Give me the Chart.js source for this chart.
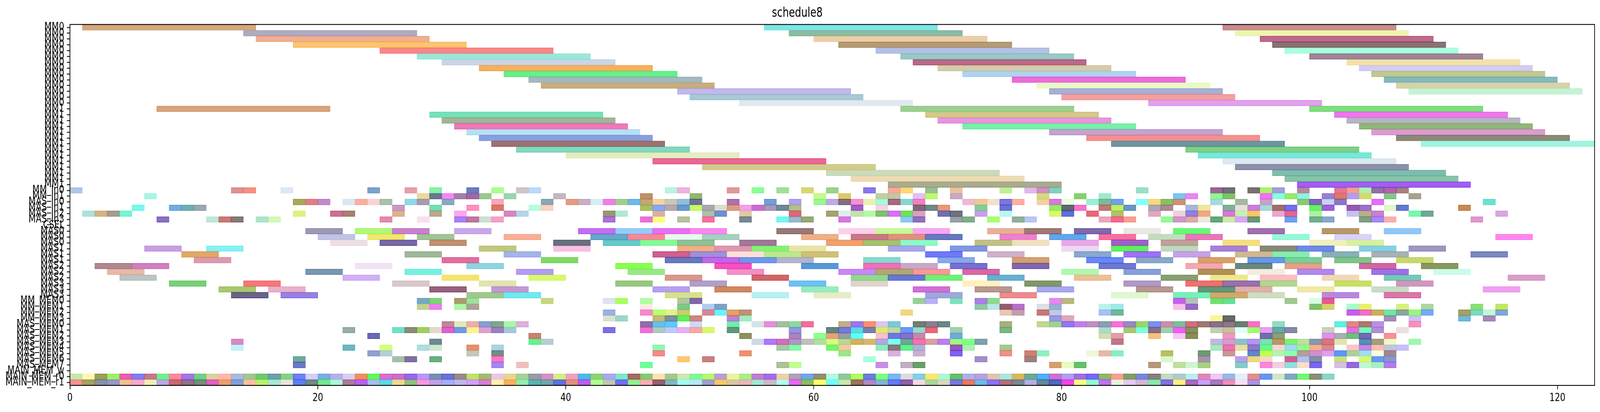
<!DOCTYPE html>
<html><head><meta charset="utf-8">
<script src="https://cdn.jsdelivr.net/npm/chart.js@4.4.0/dist/chart.umd.min.js"></script>
<style>html,body{margin:0;padding:0;background:#fff;overflow:hidden}canvas{display:block;background:#fff}</style>
</head><body>
<canvas id="c" width="5330" height="1054"></canvas>
<script>
// ---------- categories (y tick labels) ----------
const rowNames = [
 'MM0','MM0','MM0','MM0','MM0','MM0','MM0','MM0','MM0','MM0','MM0','MM0','MM0','MM0',
 'MM1','MM1','MM1','MM1','MM1','MM1','MM1','MM1','MM1','MM1','MM1','MM1','MM1','MM1',
 'MM_In0','MM_In1','MAS_In0','MAS_In1','MAS_In2','MAS_In3','CSEL',
 'MAS0','MAS0','MAS0','MAS1','MAS1','MAS1','MAS2','MAS2','MAS2','MAS3','MAS3','MAS3',
 'MM_MEM0','MM_MEM1','MM_MEM2','MM_MEM3',
 'MAS_MEM0','MAS_MEM1','MAS_MEM2','MAS_MEM3','MAS_MEM4','MAS_MEM5','MAS_MEM6','MAS_MEM7',
 'MAIN_MEM_w','MAIN_MEM_r0','MAIN_MEM_r1'
];
const xTitle = 'schedule8';
const xMax = 123;
const xStep = 20;

// ---------- MM rows (rows 0..27): [start, end] ----------
const mmSpans = [
 [[1,15],[56,70],[93,107]],
 [[14,28],[58,72],[94,108]],
 [[15,29],[60,74],[96,110]],
 [[18,32],[62,76],[97,111]],
 [[25,39],[65,79],[98,112]],
 [[28,42],[67,81],[100,114]],
 [[30,44],[68,82],[103,117]],
 [[33,47],[70,84],[104,118]],
 [[35,49],[72,86],[105,119]],
 [[37,51],[76,90],[106,120]],
 [[38,52],[78,92],[107,121]],
 [[49,63],[79,93],[108,122]],
 [[50,64],[80,94]],
 [[54,68],[87,101]],
 [[7,21],[67,81],[100,114]],
 [[29,43],[69,83],[102,116]],
 [[30,44],[70,84],[103,117]],
 [[31,45],[72,86],[104,118]],
 [[32,46],[79,93],[105,119]],
 [[33,47],[82,96],[107,121]],
 [[34,48],[84,98],[109,123]],
 [[36,50],[90,104]],
 [[40,54],[91,105]],
 [[47,61],[93,107]],
 [[51,65],[94,108]],
 [[61,75],[97,111]],
 [[63,77],[98,112]],
 [[66,80],[99,113]]
];

// ---------- MAS rows (rows 35..46): start values, each task lasts masDuration ----------
const masDuration = 3;
const masRows = [35,36,37,38,39,40,41,42,43,44,45,46];
const masStarts = [
 [19,23,26,31,41,44,47,50,57,62,65,68,74,77,81,85,89,95,101,106],
 [20,24,28,35,42,45,48,51,59,63,66,69,75,79,83,87,90,97,102,115],
 [21,25,29,39,43,46,49,54,61,64,67,73,76,80,84,88,93,100,103],
 [6,11,33,39,49,52,55,58,66,71,80,84,88,92,96,99,104,108],
 [9,27,35,47,50,53,56,59,69,74,81,85,89,94,97,101,105,113],
 [10,30,38,48,51,54,57,64,70,76,82,86,91,95,98,102,107],
 [2,5,23,32,44,52,59,64,67,71,76,83,90,94,98,104,109],
 [3,19,27,36,45,53,62,65,68,72,80,85,91,95,99,105,110],
 [4,22,30,37,48,55,63,66,69,74,81,88,92,96,101,106,116],
 [8,14,26,33,44,50,58,63,72,77,85,90,93,96,102,107],
 [12,16,29,34,47,52,59,68,73,78,86,91,94,99,105,114],
 [13,17,32,35,48,55,60,69,75,84,89,92,95,101,106]
];

// ---------- unit-length rows: start values, each task lasts unitDuration ----------
const unitDuration = 1;
const unitRows = [28,29,30,31,32,33,47,48,49,50,51,52,53,54,55,56,57,58,60,61];
const unitStarts = [
 [0,13,14,17,24,27,29,32,34,36,37,48,49,53,55,57,59,61,64,66,67,69,71,75,77,78,79,86,92,93,95,96,97,99,102,103,104,105,106,107],
 [6,28,29,30,31,32,33,35,39,46,50,60,62,65,66,68,69,71,78,81,83,89,90,92,93,96,97,98,99,101,102,103,104,106,108],
 [18,19,20,22,23,24,25,27,28,30,34,38,40,41,42,43,44,45,46,47,48,49,50,53,56,58,60,61,62,63,64,65,66,67,68,72,73,74,75,76,78,79,80,82,83,84,86,87,88,89,92,94,96,99,100,101,102,105,114],
 [5,8,9,10,26,29,32,34,37,38,46,47,48,49,50,51,52,53,54,55,56,57,58,63,65,68,69,70,73,75,79,80,81,83,84,85,87,88,90,91,93,94,95,96,97,98,100,101,103,104,106,107,112],
 [1,2,3,4,18,21,22,26,29,31,35,36,43,44,47,51,52,54,58,61,62,63,64,65,66,67,68,70,71,73,75,79,80,82,84,87,89,90,91,93,94,95,97,98,100,103,104,105,108,109,115],
 [7,11,12,13,15,16,25,28,31,32,33,34,43,46,47,49,51,54,57,58,59,62,67,68,71,72,74,76,77,83,84,85,88,89,90,91,92,93,94,95,98,100,101,104,105,106,113],
 [28,29,31,32,38,43,44,46,49,50,68,69,71,73,74,79,80,89,90,92,93,98,100,101],
 [28,29,31,32,46,49,51,52,73,74,75,76,78,79,83,84,89,90,100,101,103,104,107,109,113,115],
 [43,46,47,48,49,51,52,53,54,67,75,76,78,79,83,84,103,104,105,106,107,108,109,112,113,114,115],
 [43,44,47,48,49,50,53,54,79,80,92,93,106,108,112,114],
 [30,31,32,33,34,35,36,46,47,48,50,53,55,56,57,58,59,62,63,64,65,66,68,69,70,75,78,79,80,81,82,83,84,85,86,87,88,89,90,91,92,93,94,95,97,102,103,104,105,108],
 [22,26,27,28,29,30,31,32,33,34,35,43,46,47,48,49,50,51,53,58,61,62,63,64,65,66,67,68,69,71,75,83,85,86,87,88,89,90,92,93,94,95,96,97,98,101,103,104,105,107],
 [24,37,54,58,60,61,62,63,65,66,67,68,71,83,84,87,89,90,93,96,97,101,102,103,104,106],
 [13,29,37,38,55,56,57,58,59,60,61,62,63,64,65,66,67,68,69,70,71,72,73,84,92,93,94,95,96,97,98,99,100,101,102,104,105,106,108],
 [13,22,25,28,29,32,34,47,57,58,61,62,65,66,67,68,71,72,75,92,93,94,95,96,97,98,99,100,101,103,104,105,106,107],
 [24,25,32,34,47,54,62,66,68,71,75,77,78,82,83,84,88,91,93,95,96,97,98,99,100,101,102,103,104,105,106],
 [18,26,27,29,34,49,51,64,73,77,88,91,94,95,96,98,99,100,102,104,105,106],
 [18,34,36,46,57,58,65,67,68,79,80,81,87,89,90,91,94,96,97,98,99,100,102,103,104,105,106],
 [0,1,2,3,4,5,6,7,8,9,10,11,12,13,14,15,16,17,18,19,20,21,22,23,24,25,26,27,28,29,30,31,32,33,34,35,36,37,38,39,40,41,42,43,44,45,46,47,48,49,50,51,52,53,54,55,56,57,58,59,60,61,62,63,64,65,66,67,68,69,70,71,72,73,74,75,76,77,78,79,80,81,82,83,84,85,86,87,88,89,90,91,92,93,94,95,96,97,98,99,100,101],
 [0,1,2,3,4,5,6,7,8,9,10,11,12,13,14,15,16,17,18,19,20,21,22,23,24,25,26,27,28,29,30,31,32,33,34,35,36,37,38,39,40,41,42,43,44,45,46,47,48,49,50,51,52,53,54,55,56,57,58,59,60,61,62,63,64,65,66,67,68,69,70,71,72,73,74,75,76,77,78,79,80,81,82,83,84,85,86,87,88,89,90,91,92,93,94,95]
];

// ---------- styles: colours of each task (same shape as the data) ----------
const mmColors = [
 ['#d4a77f','#7ce6e4','#c88c8c'],['#b0aac0','#8bbba3','#eef5b0'],['#f0b090','#ebcfa9','#bf6b8e'],['#fcc470','#b59a74','#8a7272'],
 ['#f88888','#b3c1e3','#aaffdd'],['#9ce8d8','#99c8c8','#a08498'],['#cad5e5','#b86a88','#f2e2aa'],['#f5b060','#d3cca8','#d4ccf0'],
 ['#66f08a','#b0d2ef','#c0c890'],['#a3b8c0','#ec6cd8','#85b8bc'],['#c9ad80','#e8fac8','#d5d4a8'],['#c2b8ec','#aaaed4','#c6f2d5'],
 ['#a7c9d6','#f2a0a0'],['#e2e8f0','#e1a0ec'],
 ['#d8a47e','#9dcf93','#80dd80'],['#78e0b8','#d4c88a','#ec78ec'],['#a2b598','#e696dc','#b8b4c4'],['#ee78b8','#78f0a8','#8fb878'],
 ['#b5e0f5','#c3a3cf','#dc9cd0'],['#88a0dd','#f49090','#8a8a78'],['#9e7070','#6e96a0','#a0f5e0'],['#82d8be','#80d088'],
 ['#e5ecc0','#78e8d8'],['#e86896','#dde8f0'],['#d2cc8c','#8e90aa'],['#ccdabc','#7fbcb0'],['#eddbb5','#88c4a8'],['#a9ab90','#a060f0']
];
const masColors = [
 ['#9e98b4','#b0f878','#c880cc','#c8a8ec','#c070f0','#98ccf8','#e870f0','#f888f0','#987878','#fcd0e8','#c8f898','#f8a8f0','#e8b098','#a07878','#8068b0','#e8e8e4','#68f878','#a070b0','#b89868','#90c8f8'],
 ['#c0c4e4','#f0e870','#a0c498','#f8b098','#68a8c8','#f88898','#e8f8f0','#a8d0c0','#eeb088','#c87888','#e09080','#6878c0','#f080d0','#60a8e8','#f870a0','#c4dcc0','#e878b8','#98f8d8','#d8d4f8','#ff88f0'],
 ['#ece0e4','#7868a8','#c09070','#687080','#68c8c8','#88f898','#90c098','#a07898','#f0a070','#a8c070','#90f8c8','#c0c088','#f0e0c0','#e8a8e8','#a060c8','#c0a098','#f4e080','#f0f0c0','#d8f0a0'],
 ['#c8a0e0','#88f0f4','#c0c880','#f8c0e0','#f0b088','#dc98b0','#88f078','#e8e4a8','#a8a8e8','#8098e0','#ecd8f0','#60f060','#c0d8c0','#a880d8','#888878','#7088e8','#88d0e0','#9c98c0'],
 ['#e0a868','#a0b898','#a4b4e8','#d06090','#a090d8','#fce0d8','#bce890','#d0c078','#7078f8','#d0b0c8','#88a8d0','#a070f8','#c8a0e8','#d0b890','#88ecb0','#88b0b8','#a8b0b8','#7888c0'],
 ['#dc9cb0','#e070a0','#80d868','#6878c0','#c068e8','#7098e8','#b4b4cc','#88d8d0','#88a8e8','#d4a070','#6888f8','#88a8c8','#d8a068','#6898e8','#78d098','#80c488','#c8d870'],
 ['#b08890','#d080c0','#f0e4f4','#90d4e0','#88ff50','#f850c0','#5898d8','#f070b8','#c8a8c8','#7870d0','#8068b0','#7078d0','#f4a8b0','#688880','#e8a088','#d068a0','#889860'],
 ['#e8b8a8','#7898b0','#78f0e0','#b49cf0','#98e888','#f090c8','#c888f8','#b0a870','#f89898','#d868a8','#b0f8b0','#88a0d8','#b09058','#f4ece0','#b088f0','#a070e8','#ccfce8'],
 ['#bcc4c4','#d0b0f4','#f4e470','#d8f870','#d89890','#d06868','#90d890','#6878d0','#70f078','#68b0d0','#ecc098','#88a070','#ece890','#f8c0c0','#f0d8b8','#78c8b8','#d8a0c8'],
 ['#78d078','#f47878','#d8c8cc','#e0e4b0','#98c880','#b0a0c8','#70c0f0','#e0d4cc','#fff0c0','#809868','#b098c8','#f07070','#9870b0','#b0d890','#c8e068','#d098c0'],
 ['#a8c870','#e8b0cc','#986080','#c498d4','#b8a0f0','#d08860','#98ecc0','#d070d8','#b89890','#a8a8f0','#b89890','#609878','#e0b0a8','#f0e8a8','#c8dcc8','#f0a0f0'],
 ['#6c6488','#9880e0','#a0c890','#70e8f0','#d8e090','#b8f0f0','#e4ecc8','#a0a8d8','#ec8c90','#e0f8d0','#78f0b8','#d0a870','#d0dcc0','#b888e0','#d878a8']
];
const unitColors = [
 ['#aec7e8','#e09090','#f59080','#dde8f2','#7aa0cc','#e4a0a8','#88f0a8','#6c7cc0','#a8ff90','#d0c4cc','#bcdaf5','#b8f4dc','#f0b0e0','#e09898','#88ff98','#a0e098','#d8d870','#a0d088','#8878e8','#f8a898','#fcd878','#98c090','#ecc0a0','#c0f098','#e0b8e8','#d090c0','#80d0c0','#98e0c8','#986898','#707078','#787070','#b0f070','#a0a0d8','#b888a0','#e07898','#f0a090','#b0f0b0','#9070a8','#b860a8','#a88088'],
 ['#aaf5e5','#ecd8a0','#687890','#f488f0','#a080a8','#a068a8','#9cc890','#9cd4b0','#c4b8bc','#c09068','#90b870','#c8f890','#e0c868','#c0d0a0','#c0c8a8','#e0c0f4','#c0f870','#c8a8c8','#d0dc78','#88d070','#a0e8d0','#78c8f0','#e888f0','#90f890','#80c068','#f070f8','#88ffe0','#98e870','#90f0e0','#9880d0','#e07868','#b0a0f0','#d8d870','#80c888','#a8a090'],
 ['#a8a860','#dd7f85','#c08ad0','#d8e8f2','#f8b0a0','#f8d4d4','#acc0ac','#90d8e8','#a89cb0','#88a8c4','#f8a8b8','#88a8b4','#e49c84','#c8b0c8','#d8eef0','#f080e8','#a0d090','#70b8e8','#c0a878','#f4d4a0','#c8c8b8','#90c0d8','#6c7098','#b070b0','#70a0d8','#b0a0f0','#98f890','#c0a8e8','#807080','#f890d0','#ecf0b0','#a8f8e0','#a86880','#88d8d0','#f080c0','#f0b8d0','#f0c898','#f4e0d0','#7878e0','#fcb0a0','#f4d0a0','#d878e0','#eafce0','#98f0d8','#80b898','#70a0f0','#88ffff','#f8d880','#88c068','#d09078','#a8d8e0','#a8b8a0','#c8a0c8','#88c878','#8068c0','#c8d4f0','#8878c8','#e070f8','#70e0d0'],
 ['#77f8f0','#70aee0','#70b0b0','#99a8b3','#c898c8','#70e0b0','#ff90c0','#dc7868','#b8fce0','#ffd0c4','#a8c060','#88a8f8','#b8a8a8','#6a98d0','#c8f868','#a8a8b0','#dcdcd0','#d8a080','#f4a0e8','#c870d0','#a898b8','#708898','#b0c088','#a060c0','#f4d4e4','#806878','#708888','#e89878','#80d098','#7070d0','#90f060','#606870','#f870d0','#c07878','#c0f060','#6898c0','#a8a8b8','#b08890','#a8b8d8','#ece8a0','#80b098','#e4e4d8','#c880d8','#a8d8d8','#a07068','#7070f0','#68f068','#a060d8','#9858b0','#a070c8','#e0f8c8','#6878d0','#c88850'],
 ['#b0e0dc','#d4b484','#a89c90','#77f5d0','#e0f080','#cc6f94','#a88070','#e0b090','#b8a890','#fca8f0','#d488c0','#b4d4e8','#989870','#b0e8d8','#d8b0a8','#b0c0a8','#7090d0','#e0c8a8','#dc6878','#a8a070','#dcecf0','#c4e0b0','#b8f8a8','#80c070','#d870f8','#70e060','#d8a0c0','#7070b0','#707080','#c8a0e8','#b8f8f0','#d8f870','#6070d8','#e86878','#b0c070','#e0a8c0','#f0d0e0','#9080e0','#f0a880','#d878d8','#c8f0b0','#f8c868','#e8a8d0','#e06890','#b0f0a0','#c8c0f0','#b8b090','#c880d0','#78f8b0','#70a898','#d8a8e0'],
 ['#8a70c4','#c0e8d8','#c87a75','#887878','#aee4cc','#d4f8b8','#e488b0','#f8e0f0','#aa80f8','#c078a0','#cce0d0','#f4a0c8','#b070e0','#ec70d8','#ffff80','#b8c0a0','#f870a0','#788890','#70f8f0','#98b8d0','#98a878','#d878e0','#90c8f8','#9070c0','#98a0a8','#80b088','#a8ff70','#90b0a0','#b8c8f0','#e8a8c0','#f86890','#f8a090','#98f898','#d098c8','#e0a8a8','#f0e8e0','#60a878','#d0e8a8','#d8a8f8','#689878','#70a0f0','#70b090','#88a8d0','#80a080','#a888f8','#f8b0b0','#e098d0'],
 ['#78a8c8','#78d870','#a89c70','#a0e0a0','#c4d880','#dce4f0','#a8ff60','#b0ffa0','#b0c8a0','#8068a8','#98d098','#b8b0f8','#80e0c0','#a880e8','#90d890','#e888f0','#b8b880','#c860e8','#b8c0b8','#70e070','#68e090','#a0c890','#d8fce0','#e85890'],
 ['#c4d090','#ec80ec','#acf8a8','#aca498','#f8ece4','#80c888','#b0ccf0','#7ca0c8','#90c8a8','#b8e8e8','#906070','#b870c8','#dce0e4','#98b0d0','#b8f4e8','#a0e8e8','#f8c0e8','#9868c8','#80c068','#d8d070','#a8ffc8','#e8f070','#d8f080','#a8d8a0','#88e078','#c0e860'],
 ['#a0b0e0','#f888c8','#b8ff70','#e0f090','#c4d070','#d88898','#70f0ff','#e8a068','#c09078','#f0d880','#e8c8b0','#c0a0b0','#c87878','#c4c8e4','#a8c0f8','#70b898','#c860e8','#f070c0','#c8b060','#70e8a0','#88a8a0','#98f878','#78a8f8','#a8a060','#80d8c0','#c0f8d8','#80a8d0'],
 ['#d8e4d0','#a0d4cc','#c8b878','#7c9098','#60f060','#cc8880','#c080d0','#a0ecc0','#9898e8','#e0a8b8','#f8f898','#686868','#a090b8','#c8c0f8','#70b8d8','#a888b8'],
 ['#c08898','#e4e8b8','#e8b0a8','#84a0d0','#80a888','#a8f8a8','#dcb0d8','#8c70a8','#68c0e8','#60c8f8','#d0d8f8','#78e8b0','#d4e4e8','#e090d8','#a0c0a0','#90d8a0','#f07098','#c0b088','#9878f0','#f89070','#d8c8f0','#80c8d8','#708070','#888090','#688888','#a8b080','#c0d890','#a0d098','#9078f0','#c080e8','#c090c0','#88a0b0','#f870d8','#9888c8','#98d868','#7890f0','#c890a8','#78c098','#d07080','#9c7870','#887090','#8c7888','#688070','#f870c8','#90dcc0','#60f0e0','#e08888','#b07868','#b890e8','#f890b8'],
 ['#98aca8','#70e0c8','#8a8c78','#a0d060','#e4d8cc','#e060d0','#6c9ce8','#fff090','#e0a0cc','#9c80c0','#a4c8d8','#8070e0','#f070d8','#b0c8c4','#c0c8f8','#e8b0f0','#f8a8a8','#d8f870','#609878','#9098e0','#608880','#7878e0','#60d8e0','#7880b0','#e0e870','#c0d8a0','#6898f8','#98d8d0','#e86878','#a0d0a8','#78b880','#b0d8d0','#a8c870','#80ffd8','#887088','#a0d0b0','#f060f0','#889060','#c0d0b0','#c8c0a0','#e4ffff','#a0ff70','#e8a0f0','#68a8b0','#8888a8','#c8d0c0','#e070e0','#78f8c0','#b090d0','#ece0e0'],
 ['#6a68b8','#cc8070','#909060','#b080c0','#90ff90','#e8a080','#98a0a0','#60ffff','#f8c0d0','#7078e0','#8870d0','#c888a8','#70a8e0','#d0e0b0','#e0a0a8','#f8c080','#f8c8f0','#889058','#f098c0','#7070b0','#90a070','#e090f0','#a8b0b0','#70c078','#7868b8','#f89098'],
 ['#d68ac8','#708890','#6af090','#b8ccd4','#d0d8e8','#b078f8','#d070b8','#b098c0','#c0c0c0','#b0e0a0','#d8f888','#b8d898','#d8b060','#d8b870','#b0a8e0','#80fff0','#70a890','#f870b0','#d8a0a0','#b880f0','#a0f880','#80ff88','#80a0b0','#c07888','#c0b8e0','#d0a0d0','#90c0d0','#b098f0','#80e0b0','#b89868','#80f070','#c0e0a0','#8898b0','#d87878','#e0e4b0','#5890b0','#a0a080','#f0f8c8','#a0f8b0'],
 ['#c4f0fa','#6ab8c0','#d4ff80','#b0dce0','#d0e8d0','#e89070','#a8d4e4','#90f8b0','#a8c8a8','#88f8a8','#70f868','#f8c8a0','#90ecc0','#887878','#60f090','#a8b8d8','#9858b8','#b0f0b0','#a8c890','#a8e8c0','#f070b0','#e8e0a0','#9078c8','#68f890','#f8d8d0','#a0d8f8','#98f890','#f8b090','#d88898','#f8c8c8','#c088e8','#f8c0b0','#c0c8d8','#c8c0f8'],
 ['#90a0d0','#b4d0d4','#c4c8b8','#7c8888','#f88888','#f09070','#98e888','#d8b0e0','#c8b0d0','#8060f0','#ec9088','#d08070','#90f0c0','#f0f8d8','#e8b8a8','#88f0c0','#b8c060','#709870','#c89898','#6088c8','#c0ff50','#b8f0b8','#90ffb0','#b0a098','#d090d0','#e0a0f0','#5898f8','#b0d098','#a0e0e8','#f8fce0','#a08890'],
 ['#70a898','#a4c0a8','#8070a0','#68b080','#f878c8','#fcc870','#c88080','#a8ffe0','#a090c8','#a08080','#d8f8d0','#a890b0','#b8a0e8','#f0d880','#f8d8c8','#d06098','#b0c0f0','#8090a8','#c8e080','#d8f870','#6898f0','#8898d0'],
 ['#6c78c8','#a888f0','#f0c0c0','#70ff98','#b0c098','#c0ff90','#c890e8','#c0b0c0','#68a068','#d4a070','#e8fcc0','#68c068','#b89878','#c0e0a0','#d0f4d0','#a8d080','#88c8c8','#f888d8','#f0d0e0','#98dcdc','#f8e0c8','#7868f0','#d8c0e0','#9868e0','#c0f8d0','#a8f0c0','#b080e8'],
 ['#c8e8a8','#fff8b0','#98a060','#a0f068','#e860a8','#8080f0','#c87888','#70f090','#ff88a0','#a078e8','#70d088','#dcd0a0','#ffb8a8','#a8bce0','#a0c890','#70c870','#70a0a8','#88d088','#7080f8','#d4d0f8','#78b0e0','#b8b0e8','#d8d0f0','#f09060','#60f860','#d870d0','#c870c8','#9868e8','#b898f8','#7890b0','#7070d0','#988c88','#c0e070','#a8b870','#e8c8e8','#e4d890','#a8d098','#989ca8','#d890c8','#d8f080','#f0a0c0','#50b8e8','#90d078','#a8a8f8','#80e8c8','#a86868','#88c878','#fce4b0','#a8c888','#cce8b8','#80f898','#b8f870','#b8a0d0','#ecf4a0','#a8f088','#c080c8','#a070e8','#f0d0a8','#b0a0b8','#70a8e8','#909070','#b8f8e0','#90c8a0','#b0ff60','#6880d8','#80ff80','#78b8f0','#dcdce0','#80d0e8','#fce870','#b0f8d0','#68c068','#b0b0f0','#b8a0e0','#dcc8a8','#a8e8e0','#d8b860','#70a890','#50b0f8','#d070d0','#b0a0f0','#a070e0','#7868f8','#90b868','#f8a090','#80a068','#7888d8','#888080','#c0dcc0','#b0c8d0','#b8f0f0','#e088b8','#f0c8f0','#98b8e8','#e4f0f8','#e09090','#6898f0','#d0e8c8','#80a8c0','#70f870','#889078','#88d8c8'],
 ['#f89090','#a8a060','#8890a8','#9898c8','#ecc098','#ffa8d0','#ecf0b8','#b8a8e8','#c86870','#907090','#709078','#e060c0','#e8a070','#80a0d8','#ffc0a0','#b8f070','#a8e8d8','#ece4d8','#6080f0','#708888','#70e890','#a8f8d8','#b07898','#b860f0','#a8c0e8','#60d8e8','#f0d890','#90c080','#f898e0','#c0a0e8','#a0b0f8','#c0b8e8','#d0a0f8','#d880d0','#fff0b0','#f8b060','#90f0b0','#60b0b0','#70a8a8','#6070e0','#e09080','#b860f0','#b0ff90','#c0c8b0','#7070f8','#90f090','#f8b0b0','#986070','#80b8c0','#a0fff0','#b8e8f0','#a0a0d0','#f8c870','#d8c8a0','#e8b8b8','#a0e8d0','#d0b8c8','#b0fff0','#e868f0','#88c060','#f8ff70','#70ffff','#c8e8a8','#a07060','#b088c8','#80b8d0','#6878f8','#9060a8','#f8d8e0','#a8d898','#d8d8c0','#7878e0','#e87860','#70b8e8','#9070f8','#b07078','#788898','#b0b0e8','#608898','#5068c0','#f840e8','#f8ff80','#90ffd0','#c070f0','#e8f4d8','#e8c8f0','#d0b8d8','#88e8a8','#8070e0','#fcf080','#a868c0','#c8a0f8','#a878c0','#f090b8','#f8e0f8','#b090e0']
];

// ---------- build one floating-bar dataset ----------
const rowKeys = rowNames.map((n, i) => i + ':' + n);
const points = [], fills = [];
function push(row, span, color) { points.push({ x: span, y: rowKeys[row] }); fills.push(color); }
mmSpans.forEach((spans, r) => spans.forEach((s, k) => push(r, [s[0], s[1]], mmColors[r][k])));
masRows.forEach((row, j) => masStarts[j].forEach((s, k) => push(row, [s, s + masDuration], masColors[j][k])));
unitRows.forEach((row, j) => unitStarts[j].forEach((s, k) => push(row, [s, s + unitDuration], unitColors[j][k])));

function edgeOf(hex) {
  const n = parseInt(hex.slice(1), 16);
  const c = [(n >> 16) & 255, (n >> 8) & 255, n & 255].map(v => Math.max(0, Math.round(255 - (255 - v) / 0.72)));
  return 'rgba(' + c.join(',') + ',0.85)';
}
const edges = fills.map(edgeOf);

// The drawing is laid out on a 5330x1054 bitmap; the element is then fitted to the real viewport.
const cv = document.getElementById('c');
cv.style.width = (window.innerWidth || 5330) + 'px';
cv.style.height = (window.innerHeight || 1054) + 'px';

const framePlugin = {
  id: 'frame',
  afterDatasetsDraw(chart) {
    const a = chart.chartArea, ctx = chart.ctx;
    ctx.save(); ctx.strokeStyle = '#000'; ctx.lineWidth = 2.2;
    ctx.strokeRect(a.left, a.top, a.right - a.left, a.bottom - a.top);
    ctx.restore();
  }
};

Chart.defaults.font.family = "'DejaVu Sans', sans-serif";
new Chart(cv, {
  type: 'bar',
  data: { labels: rowKeys, datasets: [{
    data: points, backgroundColor: fills, borderColor: edges, borderWidth: 2, borderSkipped: false,
    categoryPercentage: 1.0, barPercentage: 1.0, grouped: false
  }]},
  options: {
    indexAxis: 'y', responsive: false, animation: false, devicePixelRatio: 1,
    layout: { padding: { left: 0, right: 18, top: 0, bottom: 0 } },
    plugins: {
      legend: { display: false }, tooltip: { enabled: false },
      title: { display: true, text: xTitle, color: '#000', font: { size: 33, weight: 'normal' }, padding: { top: 15, bottom: 8 } }
    },
    scales: {
      x: { type: 'linear', min: 0, max: xMax,
        ticks: { stepSize: xStep, includeBounds: false, color: '#000', font: { size: 28 }, padding: 6, maxRotation: 0 },
        grid: { drawOnChartArea: false, drawTicks: true, tickLength: 10, tickWidth: 2.2, tickColor: '#000' },
        border: { display: false },
        afterFit(s) { s.height = 68; } },
      y: { type: 'category', offset: true,
        ticks: { autoSkip: false, color: '#000', font: { size: 28 }, padding: 9, callback: (v) => rowNames[v] },
        grid: { offset: false, drawOnChartArea: false, drawTicks: true, tickLength: 10, tickWidth: 2.2, tickColor: '#000' },
        border: { display: false },
        afterFit(s) { s.width = 233; } }
    }
  },
  plugins: [framePlugin]
});
</script>
</body></html>
